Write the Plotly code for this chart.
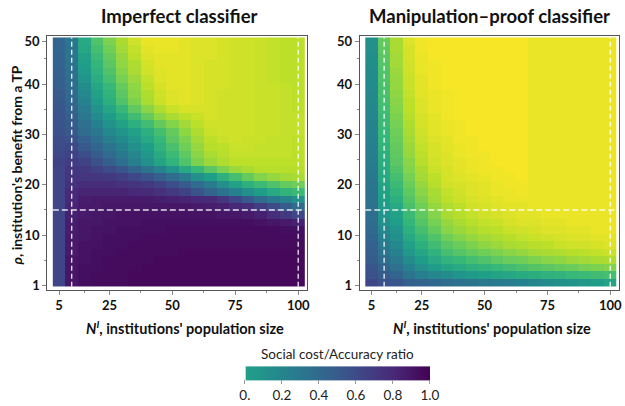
import plotly.graph_objects as go
from plotly.colors import sample_colorscale

# ---------------- data ----------------
n_values = [5, 10, 15, 20, 25, 30, 35, 40, 45, 50, 55, 60, 65, 70, 75, 80, 85, 90, 95, 100]
rho_values = [1.0, 2.5, 4.0, 5.5, 7.0, 8.5, 10.0, 11.5, 13.0, 14.5, 16.0, 17.5, 19.0, 20.5,
              22.0, 23.5, 25.0, 26.5, 28.0, 29.5, 31.0, 32.5, 34.0, 35.5, 37.0, 38.5, 40.0,
              41.5, 43.0, 44.5, 46.0, 47.5, 49.0]

# colour level (0 = dark purple ... 100 = yellow), rows = rho (bottom to top)
imperfect_level = [
    [21, 6, 4, 3, 3, 3, 2, 2, 2, 2, 2, 2, 2, 2, 2, 2, 2, 2, 2, 2],
    [21, 6, 4, 3, 3, 3, 2, 2, 2, 2, 2, 2, 2, 2, 2, 2, 2, 2, 2, 2],
    [21, 6, 4, 4, 3, 3, 3, 2, 2, 2, 2, 2, 2, 2, 2, 2, 2, 2, 2, 2],
    [21, 6, 5, 4, 3, 3, 3, 3, 2, 2, 2, 2, 2, 2, 2, 2, 2, 2, 2, 2],
    [21, 7, 5, 4, 4, 3, 3, 3, 3, 3, 2, 2, 2, 2, 2, 2, 2, 2, 2, 2],
    [21, 7, 5, 5, 4, 4, 3, 3, 3, 3, 3, 3, 3, 3, 3, 3, 3, 3, 3, 3],
    [21, 7, 6, 5, 4, 4, 4, 3, 3, 3, 3, 3, 3, 3, 3, 3, 3, 3, 3, 3],
    [21, 8, 6, 5, 5, 4, 4, 4, 4, 3, 3, 3, 3, 3, 3, 3, 3, 3, 4, 4],
    [21, 8, 6, 6, 5, 5, 5, 4, 4, 4, 4, 4, 4, 4, 4, 4, 5, 6, 7, 9],
    [21, 9, 7, 6, 6, 5, 5, 5, 5, 5, 5, 5, 5, 6, 6, 7, 9, 13, 17, 22],
    [21, 10, 7, 7, 6, 6, 6, 6, 6, 6, 6, 7, 8, 9, 11, 13, 18, 23, 29, 35],
    [21, 11, 8, 7, 7, 7, 7, 7, 8, 9, 10, 11, 12, 16, 22, 28, 35, 40, 45, 50],
    [21, 12, 10, 10, 10, 10, 11, 12, 14, 17, 20, 26, 32, 38, 44, 50, 55, 60, 65, 68],
    [21, 14, 13, 13, 13, 14, 15, 17, 20, 24, 29, 35, 42, 50, 57, 63, 68, 72, 76, 78],
    [21, 15, 15, 16, 17, 19, 22, 26, 30, 35, 42, 50, 56, 63, 70, 76, 81, 84, 86, 87],
    [21, 16, 17, 20, 23, 27, 32, 38, 45, 52, 60, 67, 74, 80, 85, 87, 89, 89, 89, 89],
    [20, 18, 20, 25, 30, 36, 43, 50, 58, 65, 72, 80, 85, 88, 90, 90, 90, 90, 90, 90],
    [22, 20, 24, 29, 34, 40, 46, 53, 61, 68, 75, 82, 87, 89, 91, 91, 91, 91, 91, 90],
    [23, 22, 28, 33, 38, 44, 50, 56, 64, 71, 78, 84, 89, 90, 92, 92, 91, 91, 91, 90],
    [24, 25, 31, 36, 43, 48, 53, 60, 67, 74, 80, 86, 90, 92, 93, 92, 92, 91, 91, 90],
    [25, 28, 35, 40, 47, 52, 57, 63, 70, 76, 83, 88, 92, 93, 93, 93, 92, 92, 91, 91],
    [26, 29, 37, 44, 51, 57, 63, 69, 76, 81, 86, 90, 93, 93, 93, 93, 92, 92, 91, 91],
    [26, 30, 40, 48, 55, 62, 69, 76, 83, 87, 90, 92, 94, 93, 93, 93, 92, 92, 91, 91],
    [27, 32, 42, 51, 59, 67, 75, 82, 88, 92, 94, 94, 94, 93, 93, 93, 92, 92, 91, 90],
    [28, 33, 45, 55, 63, 72, 80, 87, 92, 95, 96, 95, 94, 93, 93, 93, 92, 92, 91, 90],
    [29, 34, 47, 57, 65, 74, 82, 88, 93, 95, 96, 95, 94, 93, 93, 93, 92, 92, 91, 90],
    [30, 35, 49, 59, 67, 76, 83, 90, 94, 96, 96, 95, 94, 94, 93, 93, 92, 92, 91, 90],
    [30, 36, 52, 62, 70, 79, 85, 91, 95, 96, 96, 95, 94, 94, 93, 93, 92, 91, 90, 90],
    [31, 37, 54, 64, 72, 81, 87, 93, 95, 96, 96, 95, 94, 94, 93, 93, 92, 91, 90, 90],
    [32, 38, 56, 66, 74, 83, 88, 94, 96, 96, 96, 95, 94, 94, 93, 93, 92, 91, 90, 90],
    [32, 39, 57, 68, 76, 84, 90, 95, 96, 96, 96, 95, 95, 94, 93, 93, 92, 91, 90, 90],
    [33, 39, 59, 70, 78, 86, 91, 96, 97, 97, 96, 95, 95, 94, 93, 93, 92, 91, 90, 90],
    [33, 40, 60, 72, 80, 87, 93, 97, 97, 97, 96, 95, 95, 94, 93, 93, 92, 91, 90, 90],
]

# manipulation-proof classifier, one list per N column (rho bottom to top)
proof_level_by_column = [
    [22, 25, 27, 29, 30, 31, 33, 34, 35, 36, 37, 38, 38, 39, 40, 41, 42, 43, 43, 44, 45, 45, 46, 46, 47, 47, 48, 48, 48, 49, 49, 50, 50],
    [25, 29, 32, 35, 38, 41, 44, 47, 50, 52, 54, 56, 57, 58, 60, 61, 62, 63, 65, 66, 67, 68, 68, 69, 70, 71, 71, 72, 72, 73, 74, 75, 76],
    [27, 32, 37, 41, 44, 47, 50, 52, 55, 57, 60, 63, 66, 68, 70, 72, 74, 75, 76, 77, 78, 79, 80, 81, 82, 83, 84, 84, 85, 86, 86, 87, 87],
    [30, 38, 44, 49, 53, 57, 60, 63, 66, 68, 71, 73, 75, 77, 79, 81, 82, 84, 85, 86, 87, 88, 89, 90, 90, 91, 92, 92, 93, 93, 94, 94, 95],
    [32, 43, 50, 55, 59, 63, 67, 70, 73, 75, 78, 80, 82, 84, 86, 87, 89, 90, 91, 92, 93, 94, 94, 95, 95, 96, 96, 96, 97, 97, 97, 98, 98],
    [33, 46, 55, 60, 64, 69, 72, 76, 79, 81, 84, 86, 87, 89, 90, 92, 93, 94, 94, 95, 96, 96, 96, 97, 97, 97, 98, 98, 98, 98, 99, 99, 99],
    [35, 49, 58, 65, 70, 74, 78, 82, 84, 87, 88, 90, 91, 93, 94, 94, 95, 95, 96, 96, 97, 97, 98, 98, 98, 98, 99, 99, 99, 99, 99, 99, 99],
    [37, 52, 60, 67, 73, 77, 81, 85, 87, 89, 90, 92, 93, 94, 95, 96, 96, 97, 97, 98, 98, 98, 99, 99, 99, 99, 99, 99, 99, 99, 99, 99, 99],
    [38, 54, 63, 70, 76, 80, 84, 87, 89, 91, 93, 94, 95, 95, 96, 97, 97, 98, 98, 98, 99, 99, 99, 99, 99, 99, 99, 99, 99, 99, 99, 99, 99],
    [40, 56, 65, 72, 78, 83, 86, 89, 91, 93, 94, 95, 96, 96, 97, 98, 98, 98, 99, 99, 99, 99, 99, 99, 99, 99, 99, 99, 99, 99, 99, 99, 99],
    [41, 58, 67, 75, 80, 85, 88, 90, 92, 94, 95, 96, 97, 97, 98, 98, 99, 99, 99, 99, 99, 99, 99, 99, 99, 99, 99, 99, 99, 99, 99, 99, 99],
    [42, 59, 69, 77, 82, 87, 89, 92, 94, 95, 96, 97, 97, 98, 98, 99, 99, 99, 99, 99, 99, 99, 99, 99, 99, 99, 99, 99, 99, 99, 99, 99, 99],
    [44, 61, 71, 78, 84, 88, 91, 93, 95, 96, 96, 97, 98, 98, 99, 99, 99, 99, 99, 99, 99, 99, 99, 99, 99, 99, 99, 99, 99, 99, 99, 99, 99],
    [46, 62, 73, 80, 86, 89, 92, 94, 95, 96, 97, 97, 97, 97, 97, 97, 97, 97, 97, 97, 97, 97, 97, 97, 97, 97, 97, 97, 97, 97, 97, 97, 97],
    [48, 64, 74, 82, 87, 90, 93, 95, 96, 97, 97, 97, 97, 97, 97, 97, 97, 97, 97, 97, 97, 97, 97, 97, 97, 97, 97, 97, 97, 97, 97, 97, 97],
    [50, 65, 76, 83, 88, 92, 94, 95, 96, 97, 97, 97, 97, 97, 97, 97, 97, 97, 97, 97, 97, 97, 97, 97, 97, 97, 97, 97, 97, 97, 97, 97, 97],
    [51, 67, 77, 85, 89, 93, 95, 96, 97, 97, 97, 97, 97, 97, 97, 97, 97, 97, 97, 97, 97, 97, 97, 97, 97, 97, 97, 97, 97, 97, 97, 97, 97],
    [53, 68, 79, 86, 90, 93, 95, 96, 97, 97, 97, 97, 97, 97, 97, 97, 97, 97, 97, 97, 97, 97, 97, 97, 97, 97, 97, 97, 97, 97, 97, 97, 97],
    [55, 69, 80, 87, 91, 94, 96, 97, 97, 97, 97, 97, 97, 97, 97, 97, 97, 97, 97, 97, 97, 97, 97, 97, 97, 97, 97, 97, 97, 97, 97, 97, 97],
    [58, 70, 81, 88, 92, 95, 96, 97, 97, 97, 97, 97, 97, 97, 97, 97, 97, 97, 97, 97, 97, 97, 97, 97, 97, 97, 97, 97, 97, 97, 97, 97, 97],
]

x_tick_values = [5, 25, 50, 75, 100]
x_minor_values = [15, 37.5, 62.5, 87.5]
y_tick_labels = ["1", "10", "20", "30", "40", "50"]
y_tick_positions = [0.5, 10.5, 20.5, 30.5, 40.5, 49]
y_minor_positions = [5.5, 15.5, 25.5, 35.5, 45.5]
ref_n_lines = [10, 100]
ref_rho_line = 15.5
colorbar_ticks = [0, 0.2, 0.4, 0.6, 0.8, 1.0]
colorbar_labels = ["0.", "0.2", "0.4", "0.6", "0.8", "1.0"]

assert all(len(r) == len(n_values) for r in imperfect_level) and len(imperfect_level) == len(rho_values)
assert all(len(c) == len(rho_values) for c in proof_level_by_column) and len(proof_level_by_column) == len(n_values)

proof_level = [list(row) for row in zip(*proof_level_by_column)]

# ---------------- figure ----------------
FONT = "Lato"
W, H = 625, 406

fig = go.Figure()
fig.add_trace(go.Heatmap(x=n_values, y=rho_values, z=imperfect_level, zmin=0, zmax=100,
                         colorscale="Viridis", showscale=False, xaxis="x", yaxis="y",
                         hoverinfo="skip"))
fig.add_trace(go.Heatmap(x=n_values, y=rho_values, z=proof_level, zmin=0, zmax=100,
                         colorscale="Viridis", showscale=False, xaxis="x2", yaxis="y2",
                         hoverinfo="skip"))

# colour bar as drawn in the reference (teal at 0 -> purple at 1, yellow sliver at 0)
stops = [0.006, 0.1, 0.2, 0.3, 0.4, 0.5, 0.6, 0.7, 0.8, 0.9, 1.0]
cols = sample_colorscale("Viridis", [0.57 * (1 - s) for s in stops])
cb_scale = [[0.0, "#f2e51d"], [0.005, "#f2e51d"]] + [[s, c] for s, c in zip(stops, cols)]
fig.add_trace(go.Scatter(
    x=[None], y=[None], mode="markers", xaxis="x", yaxis="y", showlegend=False,
    marker=dict(color=[0], colorscale=cb_scale, cmin=0, cmax=1, showscale=True,
                colorbar=dict(orientation="h", x=339 / W, xanchor="center",
                              y=(H - 380) / H, yanchor="middle",
                              lenmode="pixels", len=185, thickness=14,
                              xpad=0, ypad=0, outlinewidth=0,
                              tickvals=colorbar_ticks, ticktext=colorbar_labels,
                              ticks="outside", ticklen=4, tickcolor="#999",
                              tickfont=dict(family=FONT, size=13.5, color="#222"),
                              title=dict(text="Social cost/Accuracy ratio", side="top",
                                         font=dict(family=FONT, size=13.5, color="#222"))))))

ydom = [(H - 291) / H, (H - 33) / H]
axis_common = dict(showgrid=False, zeroline=False, showline=True, mirror=True,
                   linecolor="#555", linewidth=1, ticks="outside", ticklen=4,
                   tickcolor="#888", tickfont=dict(family=FONT, size=13, color="#111",
                                                   weight="bold"))
xcommon = dict(axis_common, range=[0.3, 103.3], tickvals=x_tick_values,
               minor=dict(tickvals=x_minor_values, ticks="outside", ticklen=2, tickcolor="#888"))
ycommon = dict(axis_common, range=[-0.34, 50.14], tickvals=y_tick_positions,
               ticktext=y_tick_labels,
               minor=dict(tickvals=y_minor_positions, ticks="outside", ticklen=2, tickcolor="#888"))

fig.update_layout(
    width=W, height=H, margin=dict(l=0, r=0, t=0, b=0),
    paper_bgcolor="white", plot_bgcolor="white", showlegend=False,
    xaxis=dict(xcommon, domain=[47.5 / W, 308 / W], anchor="y"),
    yaxis=dict(ycommon, domain=ydom, anchor="x"),
    xaxis2=dict(xcommon, domain=[361.5 / W, 621.5 / W], anchor="y2"),
    yaxis2=dict(ycommon, domain=ydom, anchor="x2"),
)

# dashed reference lines
dash_style = dict(color="rgba(255,255,255,0.85)", width=1.4)
for xa, ya in [("x", "y"), ("x2", "y2")]:
    for nx in ref_n_lines:
        fig.add_shape(type="line", xref=xa, yref=ya, x0=nx, x1=nx, y0=0.25, y1=49.75,
                      line=dict(dash_style, dash="5px,3px"))
    fig.add_shape(type="line", xref=xa, yref=ya, x0=2.5, x1=102.5, y0=ref_rho_line,
                  y1=ref_rho_line, line=dict(dash_style, dash="6px,3px"))

# titles and axis labels
ann_font = dict(family=FONT, color="#111")
fig.add_annotation(text="<b>Imperfect classifier</b>", x=180 / W, y=(H - 13) / H,
                   xref="paper", yref="paper", showarrow=False, xanchor="center",
                   yanchor="middle", font=dict(ann_font, size=18.5))
fig.add_annotation(text="<b>Manipulation\u2013proof classifier</b>", x=492 / W,
                   y=(H - 13) / H, xref="paper", yref="paper", showarrow=False,
                   xanchor="center", yanchor="middle", font=dict(ann_font, size=18.5))
xlab = "<b><i>N</i><sup><i>I</i></sup>, institutions' population size</b>"
for cx in [186 / W, 494 / W]:
    fig.add_annotation(text=xlab, x=cx, y=(H - 329) / H, xref="paper", yref="paper",
                       showarrow=False, xanchor="center", yanchor="middle",
                       font=dict(ann_font, size=14.5))
fig.add_annotation(text="<b><i>\u03c1</i>, institution's benefit from a TP</b>",
                   x=17 / W, y=(H - 165) / H, xref="paper", yref="paper",
                   showarrow=False, xanchor="center", yanchor="middle", textangle=-90,
                   font=dict(ann_font, size=14))

fig.write_html("out.html")
